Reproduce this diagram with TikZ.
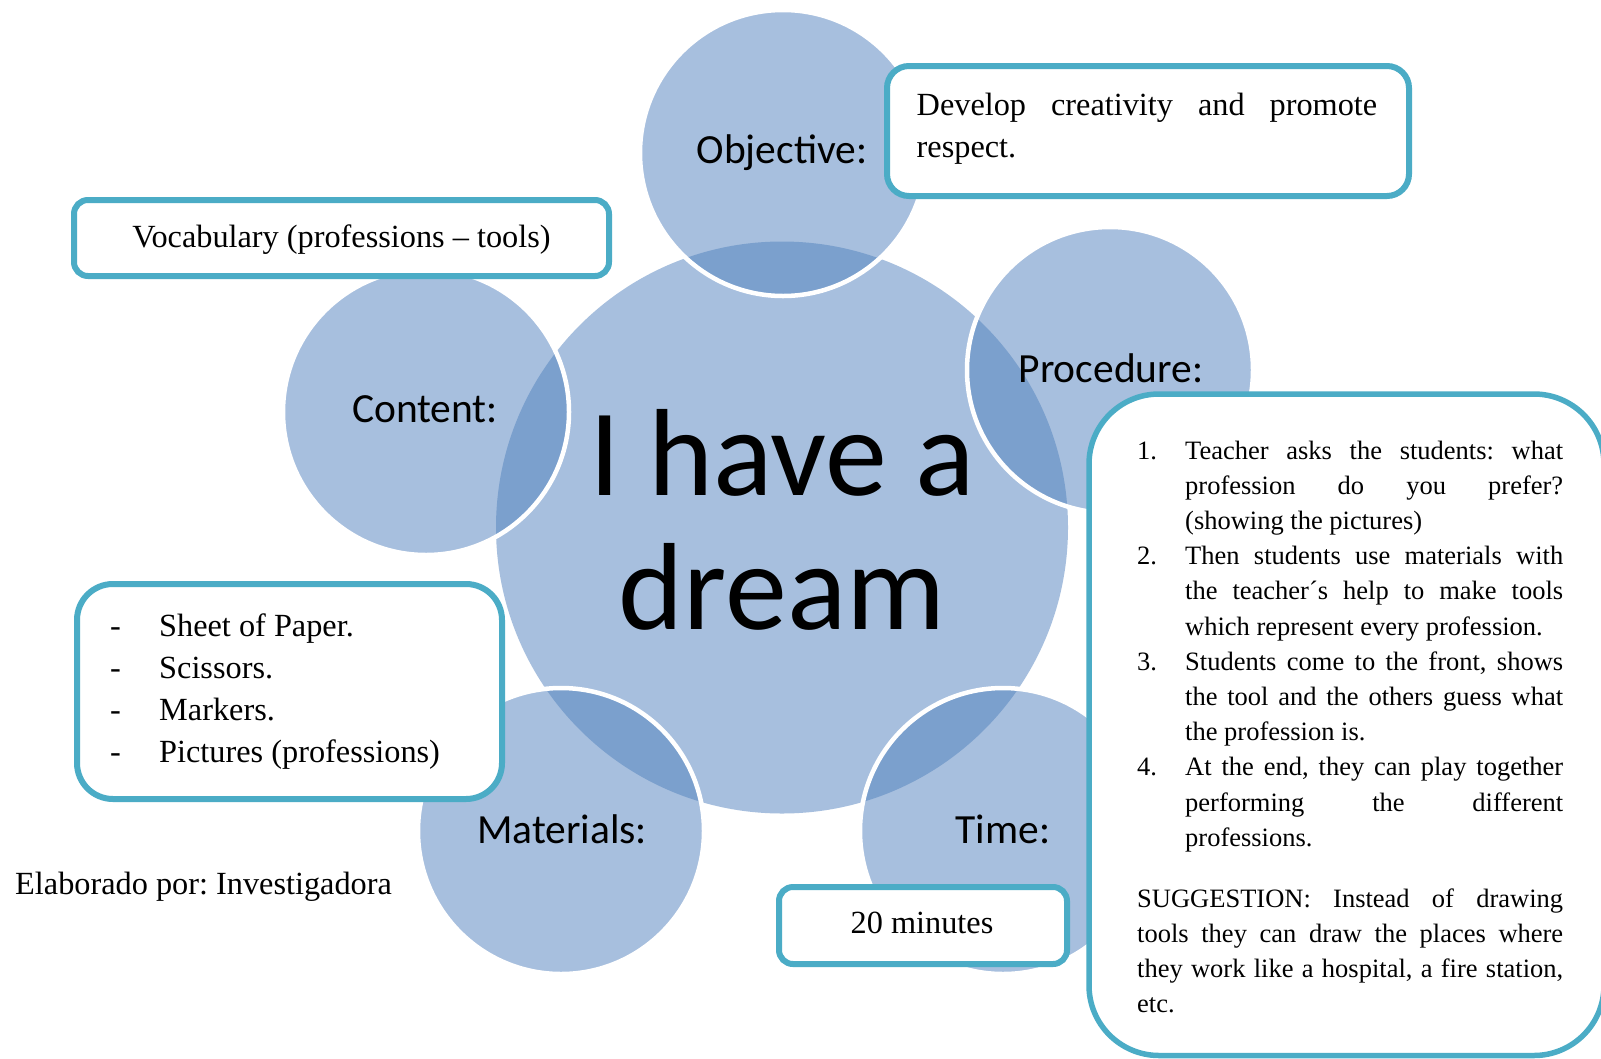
\documentclass[tikz,border=0pt]{standalone}
\usepackage{fontspec}
\setmainfont{Liberation Serif}
\newfontfamily\calfont{Carlito}
\definecolor{lightblue}{HTML}{A7BFDE}
\definecolor{darkblue}{HTML}{7BA0CD}
\definecolor{boxline}{HTML}{4BACC6}
\frenchspacing
\begin{document}
\begin{tikzpicture}[x=1pt,y=-1pt,
  satfill/.style={fill=lightblue},
  overlapfill/.style={fill=darkblue},
  ring/.style={draw=white,line width=4.5pt},
  lbl/.style={font=\calfont\fontsize{41.5}{50}\selectfont, anchor=base, inner sep=0pt},
  bigtxt/.style={font=\calfont\fontsize{124}{134}\selectfont, anchor=base, inner sep=0pt},
  infobox/.style={draw=boxline, line width=6pt, fill=white, rounded corners=#1},
  serif/.style={font=\fontsize{32.3}{42}\selectfont, inner sep=0pt}
]
\useasboundingbox (0,0) rectangle (1601,1058);
\fill[white] (0,0) rectangle (1601,1058);

% centres
\coordinate (cC) at (782,527.5);
\coordinate (cObj) at (783,153);
\coordinate (cPro) at (1110,370);
\coordinate (cTim) at (1003,831);
\coordinate (cMat) at (561,831);
\coordinate (cCon) at (426,412);

% fills
\fill[satfill] (cC) circle[radius=286];
\foreach \c in {cObj,cPro,cTim,cMat,cCon}{
  \fill[satfill] (\c) circle[radius=143];
}
\begin{scope}
  \clip (cC) circle[radius=286];
  \foreach \c in {cObj,cPro,cTim,cMat,cCon}{
    \fill[overlapfill] (\c) circle[radius=143];
  }
\end{scope}
\foreach \c in {cObj,cPro,cTim,cMat,cCon}{
  \draw[ring] (\c) circle[radius=143];
}

% circle labels
\node[bigtxt] (title1) at (782,495) {I have a};
\node[bigtxt] (title2) at (782,629.5) {dream};
\node[lbl] (lobj) at (782,163) {Objective:};
\node[lbl] (lpro) at (1111,382) {Procedure:};
\node[lbl] (lcon) at (425,422) {Content:};
\node[lbl] (lmat) at (562,843) {Materials:};
\node[lbl] (ltim) at (1003,843) {Time:};

% boxes
\draw[infobox=14pt] (74,200) rectangle (609,276);
\node[serif, anchor=base] (vocab) at (341.5,247) {Vocabulary (professions -- tools)};

\draw[infobox=22pt] (887,66) rectangle (1409,196);
\node[serif, anchor=base west] (objtxt) at (916.5,115.5)
  {\parbox[t]{460.5pt}{\makebox[460.5pt][s]{Develop creativity and promote}\\respect.}};

\draw[infobox=36pt] (77,584) rectangle (502,799);
\node[serif, anchor=base west] (mattxt) at (110,636)
  {\parbox[t]{380pt}{\makebox[49pt][l]{-}Sheet of Paper.\\
  \makebox[49pt][l]{-}Scissors.\\
  \makebox[49pt][l]{-}Markers.\\
  \makebox[49pt][l]{-}Pictures (professions)}};

\draw[infobox=14pt] (779,887) rectangle (1067,964);
\node[serif, anchor=base] (timtxt) at (922,933) {20 minutes};

\draw[infobox=70pt, line width=5.5pt] (1089,394) rectangle (1604,1055.5);
\node[font=\fontsize{26.5}{35.2}\selectfont, inner sep=0pt, anchor=base west] (protxt) at (1137,459)
  {\parbox[t]{426pt}{%
  \makebox[48pt][l]{1.}\makebox[378pt][s]{Teacher asks the students: what}\\
  \hspace*{48pt}\makebox[378pt][s]{profession do you prefer?}\\
  \hspace*{48pt}(showing the pictures)\\
  \makebox[48pt][l]{2.}\makebox[378pt][s]{Then students use materials with}\\
  \hspace*{48pt}\makebox[378pt][s]{the teacher´s help to make tools}\\
  \hspace*{48pt}which represent every profession.\\
  \makebox[48pt][l]{3.}\makebox[378pt][s]{Students come to the front, shows}\\
  \hspace*{48pt}\makebox[378pt][s]{the tool and the others guess what}\\
  \hspace*{48pt}the profession is.\\
  \makebox[48pt][l]{4.}\makebox[378pt][s]{At the end, they can play together}\\
  \hspace*{48pt}\makebox[378pt][s]{performing the different}\\
  \hspace*{48pt}professions.\\[25.6pt]
  \makebox[426pt][s]{SUGGESTION: Instead of drawing}\\
  \makebox[426pt][s]{tools they can draw the places where}\\
  \makebox[426pt][s]{they work like a hospital, a fire station,}\\
  etc.}};

\node[serif, anchor=base west] (credit) at (15,894) {Elaborado por: Investigadora};
\end{tikzpicture}
\end{document}
